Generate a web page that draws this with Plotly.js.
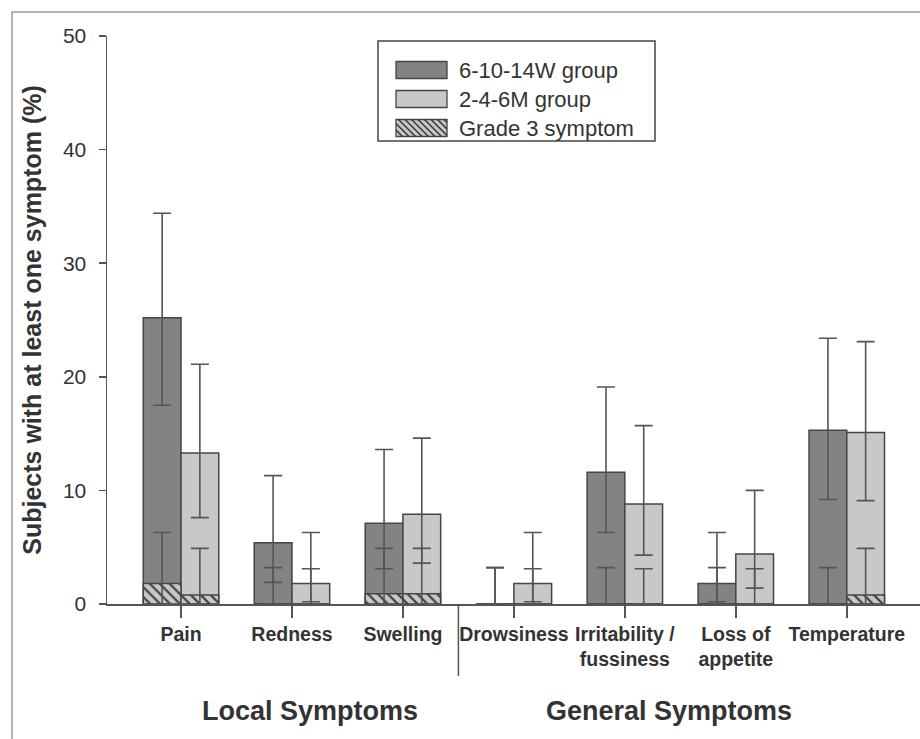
<!DOCTYPE html>
<html>
<head>
<meta charset="utf-8">
<script src="https://cdn.plot.ly/plotly-3.0.1.min.js"></script>
<style>html,body{margin:0;padding:0;background:#fff;}#chart{width:920px;height:739px;}</style>
</head>
<body>
<div id="chart"></div>
<script>
// ---- data ----
var categories = ['Pain', 'Redness', 'Swelling', 'Drowsiness', 'Irritability /<br>fussiness', 'Loss of<br>appetite', 'Temperature'];
var seriesNames = ['6-10-14W group', '2-4-6M group', 'Grade 3 symptom'];

var weekGroup      = [25.2, 5.4, 7.1, 0.0, 11.6, 1.8, 15.3];
var weekGroupUpper = [34.4, 11.3, 13.6, 3.2, 19.1, 6.3, 23.4];
var weekGroupLower = [17.5, 1.9, 3.1, 0.0, 6.3, 0.2, 9.2];

var monthGroup      = [13.3, 1.8, 7.9, 1.8, 8.8, 4.4, 15.1];
var monthGroupUpper = [21.1, 6.3, 14.6, 6.3, 15.7, 10.0, 23.1];
var monthGroupLower = [7.6, 0.2, 3.6, 0.2, 4.3, 1.4, 9.1];

var weekGrade3      = [1.8, 0.0, 0.9, 0.0, 0.0, 0.0, 0.0];
var weekGrade3Upper = [6.3, 3.2, 4.9, 3.2, 3.2, 3.2, 3.2];
var weekGrade3Lower = [0.0, 0.0, 0.0, 0.0, 0.0, 0.0, 0.0];

var monthGrade3      = [0.8, 0.0, 0.9, 0.0, 0.0, 0.0, 0.8];
var monthGrade3Upper = [4.9, 3.1, 4.9, 3.1, 3.1, 3.1, 4.9];
var monthGrade3Lower = [0.0, 0.0, 0.0, 0.0, 0.0, 0.0, 0.0];

var yTicks = [0, 10, 20, 30, 40, 50];
var groupLabels = ['Local Symptoms', 'General Symptoms'];

// ---- styles ----
var DARK = '#838383', LIGHT = '#c8c8c8', EDGE = '#454545', ERR = '#555555';
var BW = 0.34;
function plus(v, u) { return v.map(function (d, i) { return +(u[i] - d).toFixed(2); }); }
function minus(v, l) { return v.map(function (d, i) { return +(d - l[i]).toFixed(2); }); }
function errY(v, u, l) {
  return { type: 'data', symmetric: false, array: plus(v, u), arrayminus: minus(v, l),
           color: ERR, thickness: 1.6, width: 9 };
}
var hatch = { shape: '\\', bgcolor: LIGHT, fgcolor: '#3a3a3a', size: 7, solidity: 0.3 };

var traces = [
  { type: 'bar', name: seriesNames[0], x: categories, y: weekGroup, offset: -BW, width: BW,
    marker: { color: DARK, line: { color: EDGE, width: 1.5 } },
    error_y: errY(weekGroup, weekGroupUpper, weekGroupLower), showlegend: false },
  { type: 'bar', name: seriesNames[1], x: categories, y: monthGroup, offset: 0, width: BW,
    marker: { color: LIGHT, line: { color: EDGE, width: 1.5 } },
    error_y: errY(monthGroup, monthGroupUpper, monthGroupLower), showlegend: false },
  { type: 'bar', name: seriesNames[2], x: categories, y: weekGrade3, offset: -BW, width: BW,
    marker: { color: LIGHT, pattern: hatch, line: { color: EDGE, width: 1.5 } },
    error_y: errY(weekGrade3, weekGrade3Upper, weekGrade3Lower), showlegend: false },
  { type: 'bar', name: seriesNames[2], x: categories, y: monthGrade3, offset: 0, width: BW,
    marker: { color: LIGHT, pattern: hatch, line: { color: EDGE, width: 1.5 } },
    error_y: errY(monthGrade3, monthGrade3Upper, monthGrade3Lower), showlegend: false }
];

// ---- layout helpers (pixel -> paper) ----
var L = 107, T = 36, W = 813, H = 568;
function px(x) { return (x - L) / W; }
function py(y) { return (T + H - y) / H; }

var shapes = [];
var annotations = [];
// outer frame (left and top edges)
shapes.push({ type: 'path', xref: 'paper', yref: 'paper',
  path: 'M' + px(12) + ',' + py(745) + ' L' + px(12) + ',' + py(12) + ' L' + px(925) + ',' + py(12),
  line: { color: '#9a9a9a', width: 1.5 } });
// separator between local and general
shapes.push({ type: 'line', xref: 'x', yref: 'paper', x0: 2.5, x1: 2.5, y0: 0, y1: py(676),
  line: { color: '#555', width: 1.5 } });

// legend box
shapes.push({ type: 'rect', xref: 'paper', yref: 'paper', x0: px(378), x1: px(655), y0: py(41), y1: py(141),
  line: { color: '#444', width: 1.5 }, fillcolor: 'rgba(0,0,0,0)' });
var rows = [70, 99, 128];
var swFill = [DARK, LIGHT, LIGHT];
for (var r = 0; r < 3; r++) {
  var y0 = rows[r] - 8.5, y1 = rows[r] + 8.5;
  shapes.push({ type: 'rect', xref: 'paper', yref: 'paper', x0: px(396), x1: px(447), y0: py(y1), y1: py(y0),
    line: { color: EDGE, width: 1.3 }, fillcolor: swFill[r] });
  annotations.push({ xref: 'paper', yref: 'paper', x: px(457), y: py(rows[r]), xanchor: 'left', yanchor: 'middle',
    text: seriesNames[r], showarrow: false, font: { size: 22, color: '#333' } });
}
// hatch lines for the third legend swatch
(function () {
  var y0 = rows[2] - 8.5, y1 = rows[2] + 8.5, x0 = 396, x1 = 447, h = y1 - y0, p = '';
  for (var s = x0 - h; s < x1; s += 6.5) {
    var ax = s, ay = y0, bx = s + h, by = y1;
    if (ax < x0) { ay = y0 + (x0 - ax); ax = x0; }
    if (bx > x1) { by = y1 - (bx - x1); bx = x1; }
    if (bx <= ax) continue;
    p += 'M' + px(ax) + ',' + py(ay) + ' L' + px(bx) + ',' + py(by) + ' ';
  }
  shapes.push({ type: 'path', xref: 'paper', yref: 'paper', path: p, line: { color: '#3a3a3a', width: 1.6 } });
})();

// group labels
annotations.push({ xref: 'paper', yref: 'paper', x: px(310), y: py(711), text: groupLabels[0], showarrow: false,
  xanchor: 'center', yanchor: 'middle', font: { size: 27, color: '#333', weight: 'bold' } });
annotations.push({ xref: 'paper', yref: 'paper', x: px(669), y: py(711), text: groupLabels[1], showarrow: false,
  xanchor: 'center', yanchor: 'middle', font: { size: 27, color: '#333', weight: 'bold' } });

var layout = {
  width: 920, height: 739,
  margin: { l: L, r: 0, t: T, b: 739 - T - H },
  paper_bgcolor: '#fff', plot_bgcolor: '#fff',
  barmode: 'overlay',
  font: { family: 'Arial, "Liberation Sans", sans-serif', color: '#333' },
  showlegend: false,
  xaxis: {
    type: 'category', range: [-0.667, 6.66], fixedrange: true,
    showline: true, linecolor: '#555', linewidth: 1.5,
    ticks: 'outside', ticklen: 12, tickwidth: 1.5, tickcolor: '#555',
    showgrid: false, zeroline: false,
    tickfont: { size: 19.5, color: '#333', weight: 'bold' }
  },
  yaxis: {
    range: [0, 50], tickvals: yTicks, ticktext: yTicks.map(String),
    showline: true, linecolor: '#555', linewidth: 1.5,
    ticks: 'outside', ticklen: 7, tickwidth: 1.5, tickcolor: '#555',
    ticklabelstandoff: 8,
    showgrid: false, zeroline: false,
    tickfont: { size: 21, color: '#333' },
    title: { text: 'Subjects with at least one symptom (%)', standoff: 14,
             font: { size: 25, color: '#333', weight: 'bold' } }
  },
  shapes: shapes,
  annotations: annotations
};

Plotly.newPlot('chart', traces, layout, { displayModeBar: false, staticPlot: true });
</script>
</body>
</html>
